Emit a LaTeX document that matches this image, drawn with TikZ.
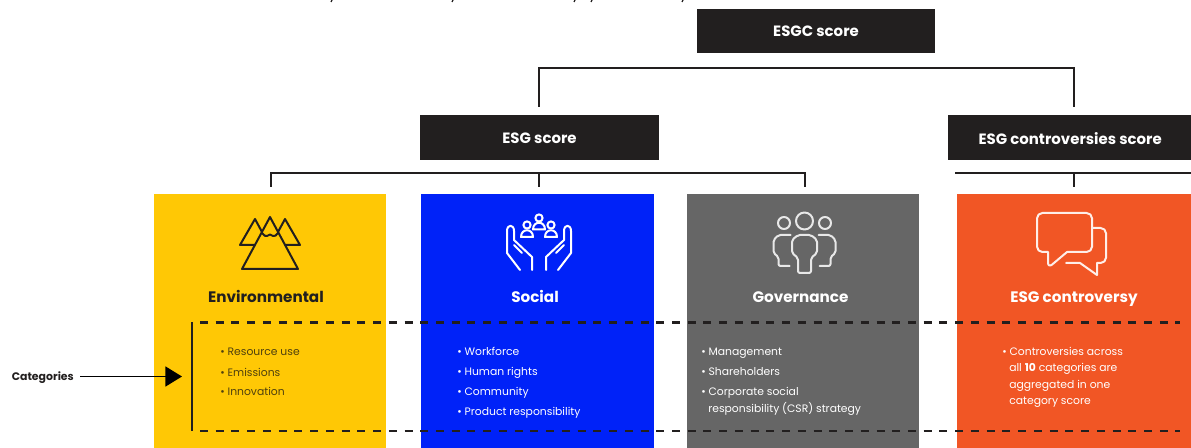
\documentclass[tikz,border=0pt]{standalone}
\usepackage{fontspec}
\setmainfont{Poppins}
\usetikzlibrary{arrows.meta}
\definecolor{boxk}{HTML}{221F1F}
\definecolor{cyel}{HTML}{FFC805}
\definecolor{cblu}{HTML}{0022F8}
\definecolor{cgry}{HTML}{666666}
\definecolor{corg}{HTML}{F15625}
\definecolor{ltxt}{HTML}{4F400E}
\tikzset{
  x=0.75pt,y=-0.75pt,
  scorebox/.style={fill=boxk,text=white,inner sep=0pt,minimum height=33.5pt,font=\fontsize{11.2}{12}\selectfont\bfseries,text depth=0pt},
  panel/.style={inner sep=0pt,minimum height=190.5pt,anchor=north west},
  conn/.style={draw=boxk,line width=1.5pt},
  ptitle/.style={inner sep=0pt,anchor=base,font=\fontsize{11.4}{13}\selectfont\bfseries},
  litem/.style={inner sep=0pt,anchor=base west,font=\fontsize{8.1}{10}\selectfont},
  ico/.style={line width=1.5pt,line join=round,line cap=round},
  dashln/.style={draw=boxk,line width=1.6pt,dash pattern=on 6pt off 5.8pt},
}
\begin{document}
\begin{tikzpicture}
\useasboundingbox (0,0) rectangle (1191,448);
\fill[white] (0,0) rectangle (1191,448);
% cropped text remnants at the top
\foreach \xx in {332,453,575,592,683} \draw[boxk,line width=0.9pt] (\xx,0) -- (\xx-1,2);
% score boxes
\node[scorebox,minimum width=178.5pt] (esgc) at (816,31) {\raisebox{-0.6pt}{ESGC score}};
\node[scorebox,minimum width=179pt] (esg) at (539.5,137.5) {\raisebox{-0.8pt}{ESG score}};
\node[scorebox,minimum width=182.25pt] (cont) at (1069.5,137.5) {\raisebox{-0.8pt}{\hspace{1pt}ESG controversies score}};
% panels
\node[panel,fill=cyel,minimum width=174pt] (env) at (154,194) {};
\node[panel,fill=cblu,minimum width=174.75pt] (soc) at (421,194) {};
\node[panel,fill=cgry,minimum width=174pt] (gov) at (687,194) {};
\node[panel,fill=corg,minimum width=175.5pt] (con) at (957,194) {};
% connectors
\coordinate (a1) at (539,107); \coordinate (a2) at (1074,107);
\draw[conn] (a1) -- (539,68.5) -- (1074,68.5) -- (a2);
\coordinate (b1) at (271,187); \coordinate (b2) at (539,187); \coordinate (b3) at (805,187);
\draw[conn] (b1) -- (271,173) -- (805,173) -- (b3);
\draw[conn] (b2) -- (539,173);
\coordinate (c1) at (955,173); \coordinate (c2) at (1191,173); \coordinate (c3) at (1074,187);
\draw[conn] (c1) -- (c2);
\draw[conn] (c3) -- (1074,173);
% titles
\node[ptitle,text=boxk] (tenv) at (266,302.5) {Environmental};
\node[ptitle,text=white] (tsoc) at (535,302.5) {Social};
\node[ptitle,text=white] (tgov) at (800.5,302.5) {Governance};
\node[ptitle,text=white] (tcon) at (1074,302.5) {ESG controversy};
% lists
\node[litem,text=ltxt] (e1) at (220,356) {• Resource use};
\node[litem,text=ltxt] (e2) at (220,377) {• Emissions};
\node[litem,text=ltxt] (e3) at (220,396) {• Innovation};
\node[litem,text=white] (s1) at (457,356) {• Workforce};
\node[litem,text=white] (s2) at (457,376) {• Human rights};
\node[litem,text=white] (s3) at (457,396) {• Community};
\node[litem,text=white] (s4) at (457,416) {• Product responsibility};
\node[litem,text=white] (g1) at (701,356) {• Management};
\node[litem,text=white] (g2) at (701,376) {• Shareholders};
\node[litem,text=white] (g3) at (701,396) {• Corporate social};
\node[litem,text=white] (g4) at (708,412) {responsibility (CSR) strategy};
\node[litem,text=white] (k1) at (1002,356) {• Controversies across};
\node[litem,text=white] (k2) at (1009,372) {all \textbf{10} categories are};
\node[litem,text=white] (k3) at (1009,389) {aggregated in one};
\node[litem,text=white] (k4) at (1009,405) {category score};
% categories bracket
\draw[boxk,line width=1.6pt] (192,322.5) -- (192,431);
\draw[dashln] (200,322.5) -- (1180,322.5);
\draw[dashln] (200,431) -- (1180,431);
\node[inner sep=0pt,anchor=base west,text=boxk,font=\fontsize{8.2}{10}\selectfont\bfseries] (cat) at (11.5,380.5) {Categories};
\coordinate (cattip) at (182,376.5);
\draw[black,line width=1.3pt,-{Triangle[length=12.5pt,width=15pt]}] (80,376.5) -- (cattip);
% mountains
\begin{scope}[ico,draw=boxk]
\draw (242,269) -- (270,217) -- (298,269) -- cycle;
\draw (262,232) -- (255,219) -- (240,245) -- (254,245);
\draw (278,232) -- (285,219) -- (300,245) -- (286,245);
\draw (262,233) .. controls (265,236) and (266,237) .. (267,236) .. controls (269,234) and (271,234) .. (273,236) .. controls (275,237) and (276,235) .. (278,233);
\end{scope}
% hands and people
\begin{scope}[ico,draw=white]
\foreach \m in {1,-1}{
 \begin{scope}[shift={(539,0)},xscale=\m]
  \draw (-19,270) -- (-32,253) -- (-32,231) .. controls (-32,224) and (-25,224) .. (-25,231) -- (-25,240) -- (-7,257) -- (-7,270);
  \draw (-25,245) -- (-17,253);
  \draw (-12,225) circle[radius=3.6];
  \draw (-18,237) .. controls (-18,228) and (-6,228) .. (-6,237) -- cycle;
 \end{scope}}
\draw (539,218) circle[radius=3.6];
\draw (533,229.5) .. controls (533,220.5) and (545,220.5) .. (545,229.5) -- cycle;
\end{scope}
% people (governance)
\begin{scope}[ico,draw=white!85!cgry]
\draw (784,223) circle[radius=6];
\draw (804.5,221) circle[radius=8.5];
\draw (825,223) circle[radius=6];
\draw[rounded corners=1.5pt] (798,235) -- (811,235) -- (817,240) -- (817,253) -- (811,258) -- (811,273) -- (798,273) -- (798,258) -- (792,253) -- (792,240) -- cycle;
\foreach \m in {1,-1}{
 \begin{scope}[shift={(804.5,0)},xscale=\m]
  \draw[rounded corners=1.5pt] (-14,235) -- (-26,235) -- (-31,240) -- (-31,253) -- (-26,257) -- (-26,266) -- (-15,266);
 \end{scope}}
\end{scope}
% speech bubbles
\begin{scope}[ico,draw=white!90!corg]
\draw[rounded corners=4pt] (1067,252) -- (1048,268) [sharp corners] -- (1048,252) [rounded corners=4pt] -- (1037,252) -- (1037,213) -- (1092,213) -- (1092,252) -- (1067,252);
\draw[rounded corners=4pt] (1092,228) -- (1106,228) -- (1106,263) -- (1097,263);
\draw (1097,263) -- (1097,275) -- (1080,263) -- (1066,263);
\end{scope}
\end{tikzpicture}
\end{document}
